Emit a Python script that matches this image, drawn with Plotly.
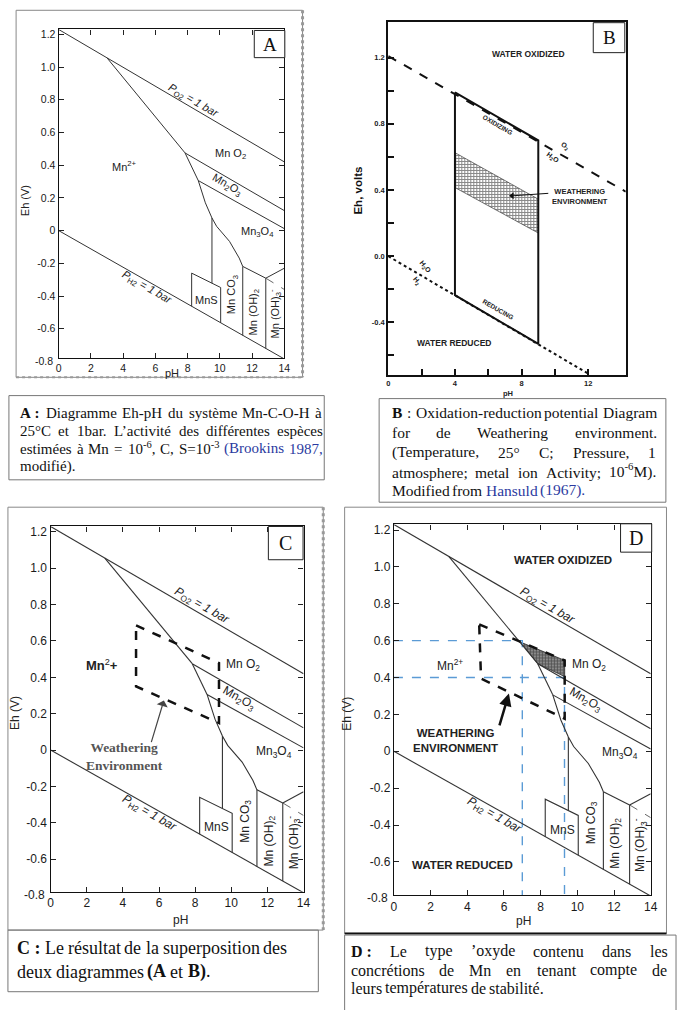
import plotly.graph_objects as go

W, H = 685, 1010

# ---------------- data: Mn-C-O-H Eh-pH diagram (panels A, C, D) ----------------
o2_ph = [0, 14]
o2_eh = [1.23, 0.42]
h2_ph = [0, 14]
h2_eh = [0.0, -0.785]
mn2_mno2_ph = [3.0, 7.84]
mn2_mno2_eh = [1.056, 0.475]
mn2_mn2o3_ph = [7.84, 8.66]
mn2_mn2o3_eh = [0.475, 0.306]
mn3o4_lower_ph = [8.66, 9.1, 9.51, 9.8, 10.6, 11.2, 11.42]
mn3o4_lower_eh = [0.306, 0.17, 0.077, 0.026, -0.066, -0.168, -0.219]
mno2_mn2o3_ph = [7.84, 14]
mno2_mn2o3_eh = [0.475, 0.122]
mn2o3_mn3o4_ph = [8.66, 14]
mn2o3_mn3o4_eh = [0.306, 0.012]
mn2_mnco3_ph = [9.51, 9.51]
mn2_mnco3_eh = [0.077, -0.322]
mns_ph = [8.25, 8.25, 10.05, 10.05]
mns_eh = [-0.463, -0.26, -0.348, -0.564]
mnco3_mnoh2_ph = [11.42, 11.42]
mnco3_mnoh2_eh = [-0.219, -0.641]
mnoh2_mn3o4_ph = [11.42, 12.85]
mnoh2_mn3o4_eh = [-0.219, -0.291]
mnoh2_mnoh3_ph = [12.85, 12.85]
mnoh2_mnoh3_eh = [-0.291, -0.721]
mn3o4_mnoh3_ph = [12.85, 14]
mn3o4_mnoh3_eh = [-0.291, -0.23]
metastable_ph = [12.85, 14]
metastable_eh = [-0.291, -0.36]

species_text = ["Mn O<sub>2</sub>", "Mn<sub>2</sub>O<sub>3</sub>", "Mn<sub>3</sub>O<sub>4</sub>", "MnS",
                "Mn CO<sub>3</sub>", "Mn (OH)<sub>2</sub>", "Mn (OH)<sub>3</sub><sup>-</sup>"]
species_ph = [10.65, 10.45, 12.35, 9.2, 10.8, 12.12, 13.45]
species_eh = [0.47, 0.28, -0.01, -0.425, -0.39, -0.5, -0.51]
species_angle = [0, 30, 0, 0, -90, -90, -90]

gas_text = ["<i>P</i><sub>O2</sub><i> = 1 bar</i>", "<i>P</i><sub>H2</sub><i> = 1 bar</i>"]
gas_ph = [8.35, 5.5]
gas_eh = [0.79, -0.35]

mn2_label_ph = {"A": 4.06, "C": 2.82, "D": 3.04}
mn2_label_eh = {"A": 0.394, "C": 0.466, "D": 0.466}

ph_ticks = [0, 2, 4, 6, 8, 10, 12, 14]
eh_ticks = [-0.6, -0.4, -0.2, 0, 0.2, 0.4, 0.6, 0.8, 1.0, 1.2]
eh_ticktext = ["-0.6", "-0.4", "-0.2", "0", "0.2", "0.4", "0.6", "0.8", "1.0", "1.2"]
eh_min, eh_max = -0.78, 1.23

# panel C : superposed weathering environment
c_box_ph = [4.73, 9.32, 9.32, 4.73, 4.73]
c_box_eh = [0.686, 0.479, 0.149, 0.35, 0.686]
c_arrow_ph = [5.55, 6.27]
c_arrow_eh = [0.035, 0.273]

# panel D
d_box_ph = [4.65, 9.31, 9.31, 4.75, 4.65]
d_box_eh = [0.688, 0.493, 0.177, 0.394, 0.688]
d_hatch_ph = [6.9, 9.31, 9.31, 7.84, 6.9]
d_hatch_eh = [0.592, 0.493, 0.405, 0.475, 0.592]
d_guide_eh = [0.6, 0.4]
d_guide_ph = [7.0, 9.3]
d_arrow_ph = [5.73, 6.27]
d_arrow_eh = [0.132, 0.313]

# ---------------- data: panel B (Hansuld 1967) ----------------
b_o2_ph = [0, 14.25]
b_o2_eh = [1.21, 0.39]
b_h2_ph = [0, 12.1]
b_h2_eh = [0.0, -0.716]
b_box_ph = [4, 9, 9, 4, 4]
b_box_eh = [0.99, 0.70, -0.53, -0.235, 0.99]
b_band_ph = [4, 9, 9, 4, 4]
b_band_eh = [0.626, 0.345, 0.14, 0.415, 0.626]
b_pointer_ph = [7.43, 9.6]
b_pointer_eh = [0.365, 0.38]
b_ph_ticks = [0, 4, 8, 12]
b_ph_minor = [2, 6, 10]
b_eh_ticks = [-0.4, 0.0, 0.4, 0.8, 1.2]
b_eh_ticktext = ["-0.4", "0.0", "0.4", "0.8", "1.2"]
b_eh_minor = [-0.6, -0.2, 0.2, 0.6, 1.0]
b_range_ph = [0, 14.25]
b_range_eh = [-0.716, 1.416]

# ---------------- captions ----------------
cap_A = ["*A\u00a0:* Diagramme Eh-pH du système Mn-C-O-H à",
         "25°C et 1bar. L’activité des différentes espèces",
         "estimées à Mn = 10^-6^, C, S=10^-3^ ~(Brookins~ ~1987,~",
         "modifié)."]
cap_B = ["*B* : Oxidation-reduction potential Diagram",
         "for de Weathering environment.",
         "(Temperature, 25° C; Pressure, 1",
         "atmosphere; metal ion Activity; 10^-6^M).",
         "Modified from ~Hansuld~ ~(1967).~"]
cap_C = ["*C\u00a0:* Le résultat de la superposition des",
         "deux diagrammes *(A* et *B)*."]
cap_D = ["*D\u00a0:* Le type ’oxyde contenu dans les",
         "concrétions de Mn en tenant compte de",
         "leurs températures de stabilité."]

# ---------------- layout helpers ----------------
FR = {"A": (56.5, 285.5, 28.5, 357.5), "B": (391, 632, 21, 374),
      "C": (48.3, 305, 526, 891.7), "D": (396.7, 657.3, 524, 895)}
AX = {"A": "", "B": "2", "C": "3", "D": "4"}
SANS = "Liberation Sans"
SERIF = "Liberation Serif"
BLUE = "#2b3aa0"

fig = go.Figure()
annotations = []
shapes = []


def line(ph, eh, p, color="#333", width=1.1, dash="solid"):
    a = AX[p]
    fig.add_trace(go.Scatter(x=ph, y=eh, mode="lines", line=dict(color=color, width=width, dash=dash),
                             xaxis="x" + a, yaxis="y" + a, showlegend=False, hoverinfo="skip"))


def ann(text, ph, eh, p, size, angle=0, color="#222", family=SANS, xanchor="center", weight="normal"):
    a = AX[p]
    annotations.append(dict(text=text, x=ph, y=eh, xref="x" + a, yref="y" + a, showarrow=False,
                            textangle=angle, xanchor=xanchor, yanchor="middle",
                            font=dict(family=family, size=size, color=color, weight=weight)))


def pann(text, px, py, size, angle=0, color="#222", family=SANS, xanchor="center", weight="normal"):
    annotations.append(dict(text=text, x=px / W, y=1 - py / H, xref="paper", yref="paper", showarrow=False,
                            textangle=angle, xanchor=xanchor, yanchor="middle",
                            font=dict(family=family, size=size, color=color, weight=weight)))


def rect(x0, y0, x1, y1, color="#777", width=1, fill=None, dash="solid"):
    shapes.append(dict(type="rect", xref="paper", yref="paper", x0=x0 / W, x1=x1 / W, y0=1 - y1 / H, y1=1 - y0 / H,
                       line=dict(color=color, width=width, dash=dash), fillcolor=fill, layer="above"))


def pline(x0, y0, x1, y1, color="#999", width=1, dash="solid"):
    shapes.append(dict(type="line", xref="paper", yref="paper", x0=x0 / W, x1=x1 / W, y0=1 - y0 / H, y1=1 - y1 / H,
                       line=dict(color=color, width=width, dash=dash), layer="above"))


layout = dict(width=W, height=H, margin=dict(l=0, r=0, t=0, b=0), paper_bgcolor="white",
              plot_bgcolor="white", autosize=False, showlegend=False)


def mn_axes(p, fs):
    l, r, t, b = FR[p]
    a = AX[p]
    common = dict(ticks="inside", ticklen=5, tickwidth=1, tickcolor="#222", showline=True, linecolor="#111",
                  linewidth=1.3, mirror="ticks", showgrid=False, zeroline=False, fixedrange=True,
                  tickfont=dict(family=SANS, size=fs, color="#1a1a1a"))
    layout["xaxis" + a] = dict(domain=[l / W, r / W], range=[0, 14], anchor="y" + a, tickvals=ph_ticks,
                               ticktext=[str(v) for v in ph_ticks], **common)
    layout["yaxis" + a] = dict(domain=[1 - b / H, 1 - t / H], range=[eh_min, eh_max], anchor="x" + a,
                               tickvals=eh_ticks, ticktext=eh_ticktext, **common)
    # -0.8 corner label (below visible range)
    pann("-0.8", l - 4, b + 3, fs, xanchor="right", color="#1a1a1a")


def mn_diagram(p, fs, lw):
    segs = [(o2_ph, o2_eh), (h2_ph, h2_eh), (mn2_mno2_ph, mn2_mno2_eh), (mn2_mn2o3_ph, mn2_mn2o3_eh),
            (mn3o4_lower_ph, mn3o4_lower_eh), (mno2_mn2o3_ph, mno2_mn2o3_eh), (mn2o3_mn3o4_ph, mn2o3_mn3o4_eh),
            (mn2_mnco3_ph, mn2_mnco3_eh), (mns_ph, mns_eh), (mnco3_mnoh2_ph, mnco3_mnoh2_eh),
            (mnoh2_mn3o4_ph, mnoh2_mn3o4_eh), (mnoh2_mnoh3_ph, mnoh2_mnoh3_eh), (mn3o4_mnoh3_ph, mn3o4_mnoh3_eh)]
    for ph, eh in segs:
        line(ph, eh, p, width=lw)
    line(metastable_ph, metastable_eh, p, width=0.9, dash="dash", color="#555")
    for t, x, y, ang in zip(species_text, species_ph, species_eh, species_angle):
        ann(t, x, y, p, fs, angle=ang)
    for t, x, y in zip(gas_text, gas_ph, gas_eh):
        ann(t, x, y, p, fs, angle=30)


# ---------------- Panel A ----------------
mn_axes("A", 10.5)
mn_diagram("A", 11, 1.0)
ann("Mn<sup>2+</sup>", mn2_label_ph["A"], mn2_label_eh["A"], "A", 11)
pann("Eh (V)", 21.7, 200, 11, angle=-90)
pann("pH", 171.7, 372, 11)
rect(13.3, 9.3, 304, 376.7, color="#888")
pline(304, 9.3, 304, 376.7, color="#999", width=3, dash="dot")
pline(13.3, 376.7, 304, 376.7, color="#999", width=2, dash="dot")
rect(255, 29.5, 286, 56.7, color="#222", width=1, fill="white")
pann("A", 270.5, 43.5, 19, family=SERIF, color="#111")

# ---------------- Panel B ----------------
l, r, t, b = FR["B"]
b_tickfont = dict(family=SANS, size=7.5, color="#222", weight="bold")
layout["xaxis2"] = dict(domain=[l / W, r / W], range=b_range_ph, anchor="y2", tickvals=b_ph_ticks,
                        ticktext=[str(v) for v in b_ph_ticks], ticks="inside", ticklen=6, tickwidth=2,
                        tickcolor="#111", minor=dict(tickvals=b_ph_minor, ticks="inside", ticklen=6, tickwidth=2,
                                                     tickcolor="#111"),
                        showline=True, linecolor="#111", linewidth=2, mirror=True, showgrid=False,
                        zeroline=False, fixedrange=True, tickfont=b_tickfont)
layout["yaxis2"] = dict(domain=[1 - b / H, 1 - t / H], range=b_range_eh, anchor="x2", tickvals=b_eh_ticks,
                        ticktext=b_eh_ticktext, ticks="inside", ticklen=6, tickwidth=2, tickcolor="#111",
                        minor=dict(tickvals=b_eh_minor, ticks="inside", ticklen=6, tickwidth=2, tickcolor="#111"),
                        showline=True, linecolor="#111", linewidth=2, mirror=True, showgrid=False,
                        zeroline=False, fixedrange=True, tickfont=b_tickfont)
fig.add_trace(go.Scatter(x=b_band_ph, y=b_band_eh, mode="lines", fill="toself", xaxis="x2", yaxis="y2",
                         line=dict(color="#222", width=0.6),
                         fillpattern=dict(shape="+", size=3, solidity=0.55, fgcolor="#111", bgcolor="white"),
                         fillcolor="white", showlegend=False, hoverinfo="skip"))
line(b_o2_ph, b_o2_eh, "B", color="#111", width=2, dash="dash")
line(b_h2_ph, b_h2_eh, "B", color="#111", width=2, dash="dot")
line(b_box_ph, b_box_eh, "B", color="#111", width=2)
line(b_pointer_ph, b_pointer_eh, "B", color="#111", width=1)
fig.add_trace(go.Scatter(x=b_pointer_ph[:1], y=b_pointer_eh[:1], mode="markers", xaxis="x2", yaxis="y2",
                         marker=dict(symbol="triangle-left", size=6, color="#111"), showlegend=False,
                         hoverinfo="skip"))
ann("WATER OXIDIZED", 8.39, 1.224, "B", 8.5, weight="bold")
ann("WATER REDUCED", 3.96, -0.527, "B", 8.5, weight="bold", xanchor="center")
ann("OXIDIZING", 6.54, 0.795, "B", 6.5, angle=30, weight="bold")
ann("REDUCING", 6.62, -0.32, "B", 6.5, angle=30, weight="bold")
ann("WEATHERING<br>ENVIRONMENT", 9.7, 0.363, "B", 7.5, weight="bold", xanchor="left")
ann("O<sub>2</sub>", 10.58, 0.667, "B", 7, angle=35, weight="bold")
ann("H<sub>2</sub>O", 9.89, 0.596, "B", 7, angle=35, weight="bold")
ann("H<sub>2</sub>O", 2.2, -0.068, "B", 7, angle=50, weight="bold")
ann("H<sub>2</sub>", 1.71, -0.149, "B", 7, angle=50, weight="bold")
pann("Eh, volts", 360, 190, 11.5, angle=-90, weight="bold", color="#111")
pann("pH", 512, 393, 7.5, weight="bold", color="#222")
rect(599, 21.7, 631, 51.7, color="#222", width=1, fill="white")
pann("B", 615, 37, 19, family=SERIF, color="#111")

# ---------------- Panel C ----------------
mn_axes("C", 12)
mn_diagram("C", 12, 1.1)
line(c_box_ph, c_box_eh, "C", color="#111", width=2.5, dash="dash")
ann("<b>Mn</b><sup>2</sup><b>+</b>", mn2_label_ph["C"], mn2_label_eh["C"], "C", 13)
ann("Weathering<br>Environment", 4.1, -0.033, "C", 13.5, family=SERIF, color="#555", weight="bold")
annotations.append(dict(x=c_arrow_ph[1], y=c_arrow_eh[1], ax=c_arrow_ph[0], ay=c_arrow_eh[0],
                        xref="x3", yref="y3", axref="x3", ayref="y3", text="", showarrow=True,
                        arrowhead=1, arrowsize=1.6, arrowwidth=1.2, arrowcolor="#444"))
pann("Eh (V)", 11.7, 713.3, 12, angle=-90)
pann("pH", 180, 920, 12)
rect(5, 506.7, 325, 930, color="#888")
pline(325, 506.7, 325, 930, color="#999", width=3, dash="dot")
rect(269.3, 526, 304.5, 559.3, color="#222", width=1, fill="white")
pann("C", 287, 543, 20, family=SERIF, color="#111")

# ---------------- Panel D ----------------
mn_axes("D", 12)
fig.add_trace(go.Scatter(x=d_hatch_ph, y=d_hatch_eh, mode="lines", fill="toself", xaxis="x4", yaxis="y4",
                         line=dict(color="#222", width=0.8),
                         fillpattern=dict(shape="+", size=3, solidity=0.45, fgcolor="#111", bgcolor="#8a8a8a"),
                         showlegend=False, hoverinfo="skip"))
for ge, gp in zip(d_guide_eh, d_guide_ph):
    line([0, gp, gp], [ge, ge, eh_min], "D", color="#5b9bd5", width=1.4, dash="dash")
mn_diagram("D", 12, 1.1)
line(d_box_ph, d_box_eh, "D", color="#111", width=2.5, dash="dash")
ann("Mn<sup>2+</sup>", mn2_label_ph["D"], mn2_label_eh["D"], "D", 12)
ann("WATER OXIDIZED", 9.22, 1.035, "D", 11.5, weight="bold")
ann("WATER REDUCED", 3.76, -0.617, "D", 11.5, weight="bold")
ann("WEATHERING<br>ENVIRONMENT", 3.34, 0.06, "D", 11.5, weight="bold")
annotations.append(dict(x=d_arrow_ph[1], y=d_arrow_eh[1], ax=d_arrow_ph[0], ay=d_arrow_eh[0],
                        xref="x4", yref="y4", axref="x4", ayref="y4", text="", showarrow=True,
                        arrowhead=2, arrowsize=1.0, arrowwidth=2.5, arrowcolor="#111"))
pann("Eh (V)", 348.3, 713.3, 12, angle=-90)
pann("pH", 528.3, 921, 12)
rect(346.7, 506.7, 673.3, 933.3, color="#888")
pline(346.7, 933.3, 673.3, 933.3, color="#111", width=2)
rect(626.7, 523.3, 658.3, 551.7, color="#222", width=1, fill="white")
pann("D", 642.5, 537.5, 20, family=SERIF, color="#111")

# ---------------- captions (justified with Times metrics) ----------------
TR = {' ': 250, '\u00a0': 250, 'a': 444, 'b': 500, 'c': 444, 'd': 500, 'e': 444, 'f': 333, 'g': 500, 'h': 500,
      'i': 278, 'j': 278, 'k': 500, 'l': 278, 'm': 778, 'n': 500, 'o': 500, 'p': 500, 'q': 500, 'r': 333,
      's': 389, 't': 278, 'u': 500, 'v': 500, 'w': 722, 'x': 500, 'y': 500, 'z': 444,
      'A': 722, 'B': 667, 'C': 667, 'D': 722, 'E': 611, 'F': 556, 'G': 722, 'H': 722, 'I': 333, 'J': 389,
      'K': 722, 'L': 611, 'M': 889, 'N': 722, 'O': 722, 'P': 556, 'Q': 722, 'R': 667, 'S': 556, 'T': 611,
      'U': 722, 'V': 722, 'W': 944, 'X': 722, 'Y': 722, 'Z': 611, '.': 250, ',': 250, ':': 278, ';': 278,
      '-': 333, '(': 333, ')': 333, '=': 564, '’': 333, "'": 180, '°': 400, 'é': 444, 'è': 444, 'à': 444}
for dgt in "0123456789":
    TR[dgt] = 500
TB = dict(TR)
TB.update({'A': 722, 'B': 667, 'C': 722, 'D': 722, ':': 333, '(': 333, ')': 333, 'e': 444, 't': 333})


def parse(tok):
    runs, flags, cur = [], set(), ""
    for ch in tok:
        if ch in "*^~":
            if cur:
                runs.append((cur, frozenset(flags)))
                cur = ""
            flags ^= {{"*": "b", "^": "s", "~": "u"}[ch]}
        else:
            cur += ch
    if cur:
        runs.append((cur, frozenset(flags)))
    return runs


def run_html(t, f, whole_b, whole_u):
    h = t
    if "b" in f and not whole_b:
        h = "<b>" + h + "</b>"
    if "s" in f:
        h = "<sup>" + h + "</sup>"
    if "u" in f and not whole_u:
        h = "<span style='color:" + BLUE + "'>" + h + "</span>"
    return h


def run_w(t, f, size):
    tab = TB if "b" in f else TR
    sc = 0.7 if "s" in f else 1.0
    return sum(tab.get(c, 500) for c in t) * size / 1000 * sc


def caption(lines, x0, x1, ys, size, justify):
    for ln, yc, jus in zip(lines, ys, justify):
        toks = ln.split(" ")
        runs = [parse(tk) for tk in toks]
        widths = [sum(run_w(tt, ff, size) for tt, ff in rs) for rs in runs]
        if jus and len(toks) > 1:
            gap = (x1 - x0 - sum(widths)) / (len(toks) - 1)
        else:
            gap = 250 * size / 1000
        x = x0
        for rs, w in zip(runs, widths):
            whole_b = all("b" in ff for _, ff in rs)
            whole_u = all("u" in ff for _, ff in rs)
            html = "".join(run_html(tt, ff, whole_b, whole_u) for tt, ff in rs)
            annotations.append(dict(text=html, x=x / W, y=1 - (yc + 0.6 * size) / H, xref="paper", yref="paper",
                                    xanchor="left", yanchor="bottom", showarrow=False, borderpad=0,
                                    font=dict(family=SERIF, size=size, color=BLUE if whole_u else "#111",
                                              weight="bold" if whole_b else "normal")))
            x += w + gap


caption(cap_A, 16.7, 322.5, [412.3, 430.5, 448.5, 466.5], 15, [True, True, True, False])
rect(6, 395, 326, 479.3, color="#777")
caption(cap_B, 393.3, 661.7, [411.7, 431.7, 451.7, 471.7, 490.5], 15.5, [True, True, True, True, False])
rect(381.7, 398, 672.7, 501.7, color="#777")
caption(cap_C, 13.3, 318, [948.3, 971.7], 18, [False, False])
rect(5, 930, 320, 991.7, color="#777")
caption(cap_D, 351.7, 673, [951.7, 970, 988.3], 16, [True, True, False])
rect(346.7, 935, 683, 1015, color="#777")

layout["annotations"] = annotations
layout["shapes"] = shapes
fig.update_layout(**layout)
fig.write_html("out.html")
